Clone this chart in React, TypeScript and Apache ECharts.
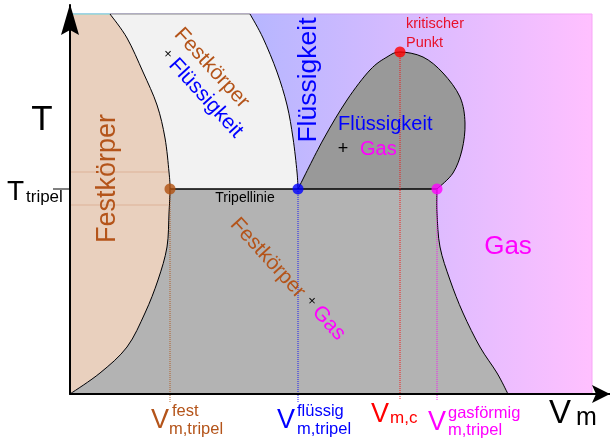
import React, { useEffect, useRef } from "react";
import * as echarts from "echarts";

// Chart units: V (x) 0..540, T (y) 0..389 ; coloured diagram box 0..522 x 0..380
const V_MAX = 540;
const T_MAX = 389;
const BOX_V = 522;
const BOX_T = 380;

const meltingCurve: number[][] = [[40, 380], [57, 356], [73, 322], [87, 289], [95, 256], [99, 222], [100, 205]];
const solidSublimationCurve: number[][] = [[100, 205], [99, 181], [97, 147], [88, 114], [75, 81], [57, 47], [30, 21], [0, 0]];
const liquidMeltingCurve: number[][] = [[180, 380], [193, 356], [207, 322], [217, 289], [223, 256], [227, 222], [228, 205]];
const coexistenceDome: number[][] = [[228, 205], [253, 254], [277, 294], [300, 324], [317, 337], [330, 342], [353, 337], [373, 321], [390, 297], [395, 271], [392, 244], [383, 221], [367, 205]];
const gasSublimationCurve: number[][] = [[367, 205], [367, 181], [370, 147], [380, 114], [393, 81], [410, 47], [427, 21], [438, 0]];
const T_TRIPEL = 205;
const faintLevels = [222, 189];

const markerNames = ["fest", "flüssig", "kritisch", "gasförmig"];
const markerV = [100, 228, 330, 367];
const markerT = [205, 205, 342, 205];
const markerColors = ["#b0500f", "#0000ff", "#ff0000", "#ff00ff"];
const dropEnd = [-9, -9, -6, -6];

const FONT = "Liberation Sans";
const BROWN = "#b4541a";
const BLUE = "#0000ff";
const MAGENTA = "#ff00ff";
const RED = "#ff0000";

function smoothSeg(pts: number[][]): string {
  let d = "";
  for (let i = 0; i < pts.length - 1; i++) {
    const p0 = pts[i - 1] || pts[i];
    const p1 = pts[i];
    const p2 = pts[i + 1];
    const p3 = pts[i + 2] || p2;
    const c1 = [p1[0] + (p2[0] - p0[0]) / 6, p1[1] + (p2[1] - p0[1]) / 6];
    const c2 = [p2[0] - (p3[0] - p1[0]) / 6, p2[1] - (p3[1] - p1[1]) / 6];
    d += ` C${c1[0]},${c1[1]} ${c2[0]},${c2[1]} ${p2[0]},${p2[1]}`;
  }
  return d;
}

function txt(text: string, x: number, y: number, size: number, color: string, align = "left", rot = 0) {
  return {
    type: "text",
    x,
    y,
    rotation: rot,
    z: 100,
    silent: true,
    style: { text, fontSize: size, fontFamily: FONT, fill: color, align, verticalAlign: "middle" },
  };
}

export default function App() {
  const ref = useRef<HTMLDivElement>(null);
  useEffect(() => {
    if (!ref.current) return;
    const chart = echarts.init(ref.current, undefined, { renderer: "svg" });

    const renderItem = (params: any, api: any) => {
      const P = (p: number[]) => api.coord(p);
      const M = (p: number[]) => { const c = P(p); return `M${c[0]},${c[1]}`; };
      const L = (p: number[]) => { const c = P(p); return ` L${c[0]},${c[1]}`; };
      const S = (pts: number[][]) => smoothSeg(pts.map(P));
      const rev = (a: number[][]) => a.slice().reverse();

      const tl = P([0, BOX_T]);
      const br = P([BOX_V, 0]);
      const leftBoundary = meltingCurve.concat(solidSublimationCurve.slice(1));

      const white = M(meltingCurve[0]) + S(meltingCurve) + L(liquidMeltingCurve[liquidMeltingCurve.length - 1]) + S(rev(liquidMeltingCurve)) + " Z";
      const peach = M([0, BOX_T]) + L(meltingCurve[0]) + S(leftBoundary) + " Z";
      const gray = M([markerV[0], T_TRIPEL]) + L([markerV[3], T_TRIPEL]) + S(gasSublimationCurve) + L([0, 0]) + S(rev(solidSublimationCurve)) + " Z";
      const dome = M(coexistenceDome[0]) + S(coexistenceDome) + " Z";

      const stroke = (d: string, color = "#000", w = 1) => ({ type: "path", shape: { pathData: d }, style: { fill: "none", stroke: color, lineWidth: w } });
      const fill = (d: string, color: any) => ({ type: "path", shape: { pathData: d }, style: { fill: color, stroke: "none" } });

      const children: any[] = [
        {
          type: "rect",
          shape: { x: tl[0], y: tl[1], width: br[0] - tl[0], height: br[1] - tl[1] },
          style: {
            fill: new echarts.graphic.LinearGradient(0, 0, 1, 0, [
              { offset: 0, color: "#a8a8ff" },
              { offset: 0.345, color: "#b6b6ff" },
              { offset: 1, color: "#ffc0ff" },
            ]),
            stroke: new echarts.graphic.LinearGradient(0, 0, 1, 0, [
              { offset: 0, color: "#9a9aee" },
              { offset: 1, color: "#f6a6f6" },
            ]),
            lineWidth: 1,
          },
        },
        fill(white, "#f2f2f2"),
        fill(peach, "#e9d0be"),
        fill(gray, "#b3b3b3"),
        fill(dome, "#999999"),
      ];
      faintLevels.forEach((t) => {
        children.push(stroke(M([0, t]) + L([98, t]), "rgba(200,120,80,0.35)", 1));
      });
      children.push(stroke(M(meltingCurve[0]) + L(liquidMeltingCurve[0]), "#8a8a8a", 1));
      children.push(stroke(M([0, 1]) + L([0, BOX_T]) + L(meltingCurve[0]), "#6fd8d8", 1));
      children.push(stroke(M(leftBoundary[0]) + S(leftBoundary), "#000", 1));
      children.push(stroke(M(liquidMeltingCurve[0]) + S(liquidMeltingCurve), "#000", 1));
      children.push(stroke(M(coexistenceDome[0]) + S(coexistenceDome), "#000", 1));
      children.push(stroke(M(gasSublimationCurve[0]) + S(gasSublimationCurve), "#000", 1));
      children.push(stroke(M([markerV[0], T_TRIPEL]) + L([markerV[3], T_TRIPEL]), "#000", 1.5));
      return { type: "group", children };
    };

    const dropSeries = markerV.map((v, i) => ({
      type: "line",
      name: markerNames[i],
      data: [[v, markerT[i]], [v, dropEnd[i]]],
      symbol: "none",
      clip: false,
      silent: true,
      z: 5,
      lineStyle: { color: markerColors[i], width: 1, type: "dotted", opacity: 0.85 },
    }));

    const option: any = {
      animation: false,
      grid: { left: 70, right: 0, top: 5, bottom: 46 },
      xAxis: {
        type: "value", min: 0, max: V_MAX, z: 10,
        axisLine: { show: true, onZero: false, lineStyle: { color: "#000", width: 2 } },
        axisTick: { show: false }, axisLabel: { show: false }, splitLine: { show: false },
      },
      yAxis: {
        type: "value", min: 0, max: T_MAX, z: 10,
        axisLine: { show: true, onZero: false, lineStyle: { color: "#000", width: 2 } },
        axisTick: { show: false }, axisLabel: { show: false }, splitLine: { show: false },
      },
      series: [
        { type: "custom", renderItem, data: [[0, 0]], silent: true, z: 2, clip: false },
        ...dropSeries,
        {
          type: "scatter",
          silent: true,
          z: 6,
          symbolSize: 11,
          data: markerV.map((v, i) => ({ value: [v, markerT[i]], itemStyle: { color: markerColors[i] } })),
        },
      ],
      graphic: [
        { type: "polygon", z: 100, shape: { points: [[70, 4], [79, 35], [70, 30], [61, 35]] }, style: { fill: "#000" } },
        { type: "polygon", z: 100, shape: { points: [[610, 394], [592, 385], [596, 394], [592, 403]] }, style: { fill: "#000" } },
        { type: "line", z: 100, shape: { x1: 53, y1: 189, x2: 70, y2: 189 }, style: { stroke: "#000", lineWidth: 1 } },
        txt("T", 42, 117, 35, "#000", "center"),
        txt("T", 7, 190, 28, "#000"),
        txt("tripel", 26, 196, 17, "#000"),
        txt("V", 549, 411, 33, "#000"),
        txt("m", 576, 416, 25, "#000"),
        txt("V", 151, 418.5, 27, BROWN),
        txt("fest", 172, 409.5, 16.5, BROWN),
        txt("m,tripel", 169, 427.5, 16.5, BROWN),
        txt("V", 277, 418.5, 27, BLUE),
        txt("flüssig", 297, 409.5, 16.5, BLUE),
        txt("m,tripel", 297, 427.5, 16.5, BLUE),
        txt("V", 371, 412.5, 27, RED),
        txt("m,c", 390, 417, 17, RED),
        txt("V", 428, 420.5, 27, MAGENTA),
        txt("gasförmig", 448, 411.5, 16.5, MAGENTA),
        txt("m,tripel", 448, 428.5, 16.5, MAGENTA),
        txt("Festkörper", 105.5, 178.5, 27, BROWN, "center", Math.PI / 2),
        txt("Flüssigkeit", 306.5, 80, 26.5, BLUE, "center", Math.PI / 2),
        txt("Festkörper", 213, 67, 21, BROWN, "center", -0.83),
        txt("×", 168, 53, 13, "#000", "center"),
        txt("Flüssigkeit", 207, 97, 21, BLUE, "center", -0.83),
        txt("Festkörper", 269, 257, 21, BROWN, "center", -0.83),
        txt("×", 312, 300, 13, "#000", "center"),
        txt("Gas", 330, 322, 21, MAGENTA, "center", -0.83),
        txt("Flüssigkeit", 338, 123, 20, BLUE),
        txt("+", 343, 148, 18, "#000", "center"),
        txt("Gas", 360, 148, 20, MAGENTA),
        txt("Gas", 508, 245, 26, MAGENTA, "center"),
        txt("Tripellinie", 245, 197, 14, "#000", "center"),
        txt("kritischer", 406, 23, 14.5, "#e8102a"),
        txt("Punkt", 406, 42, 14.5, "#e8102a"),
      ],
    };
    chart.setOption(option);
    return () => chart.dispose();
  }, []);
  return <div ref={ref} style={{ position: "fixed", left: 0, top: 0, width: 610, height: 440 }} />;
}
